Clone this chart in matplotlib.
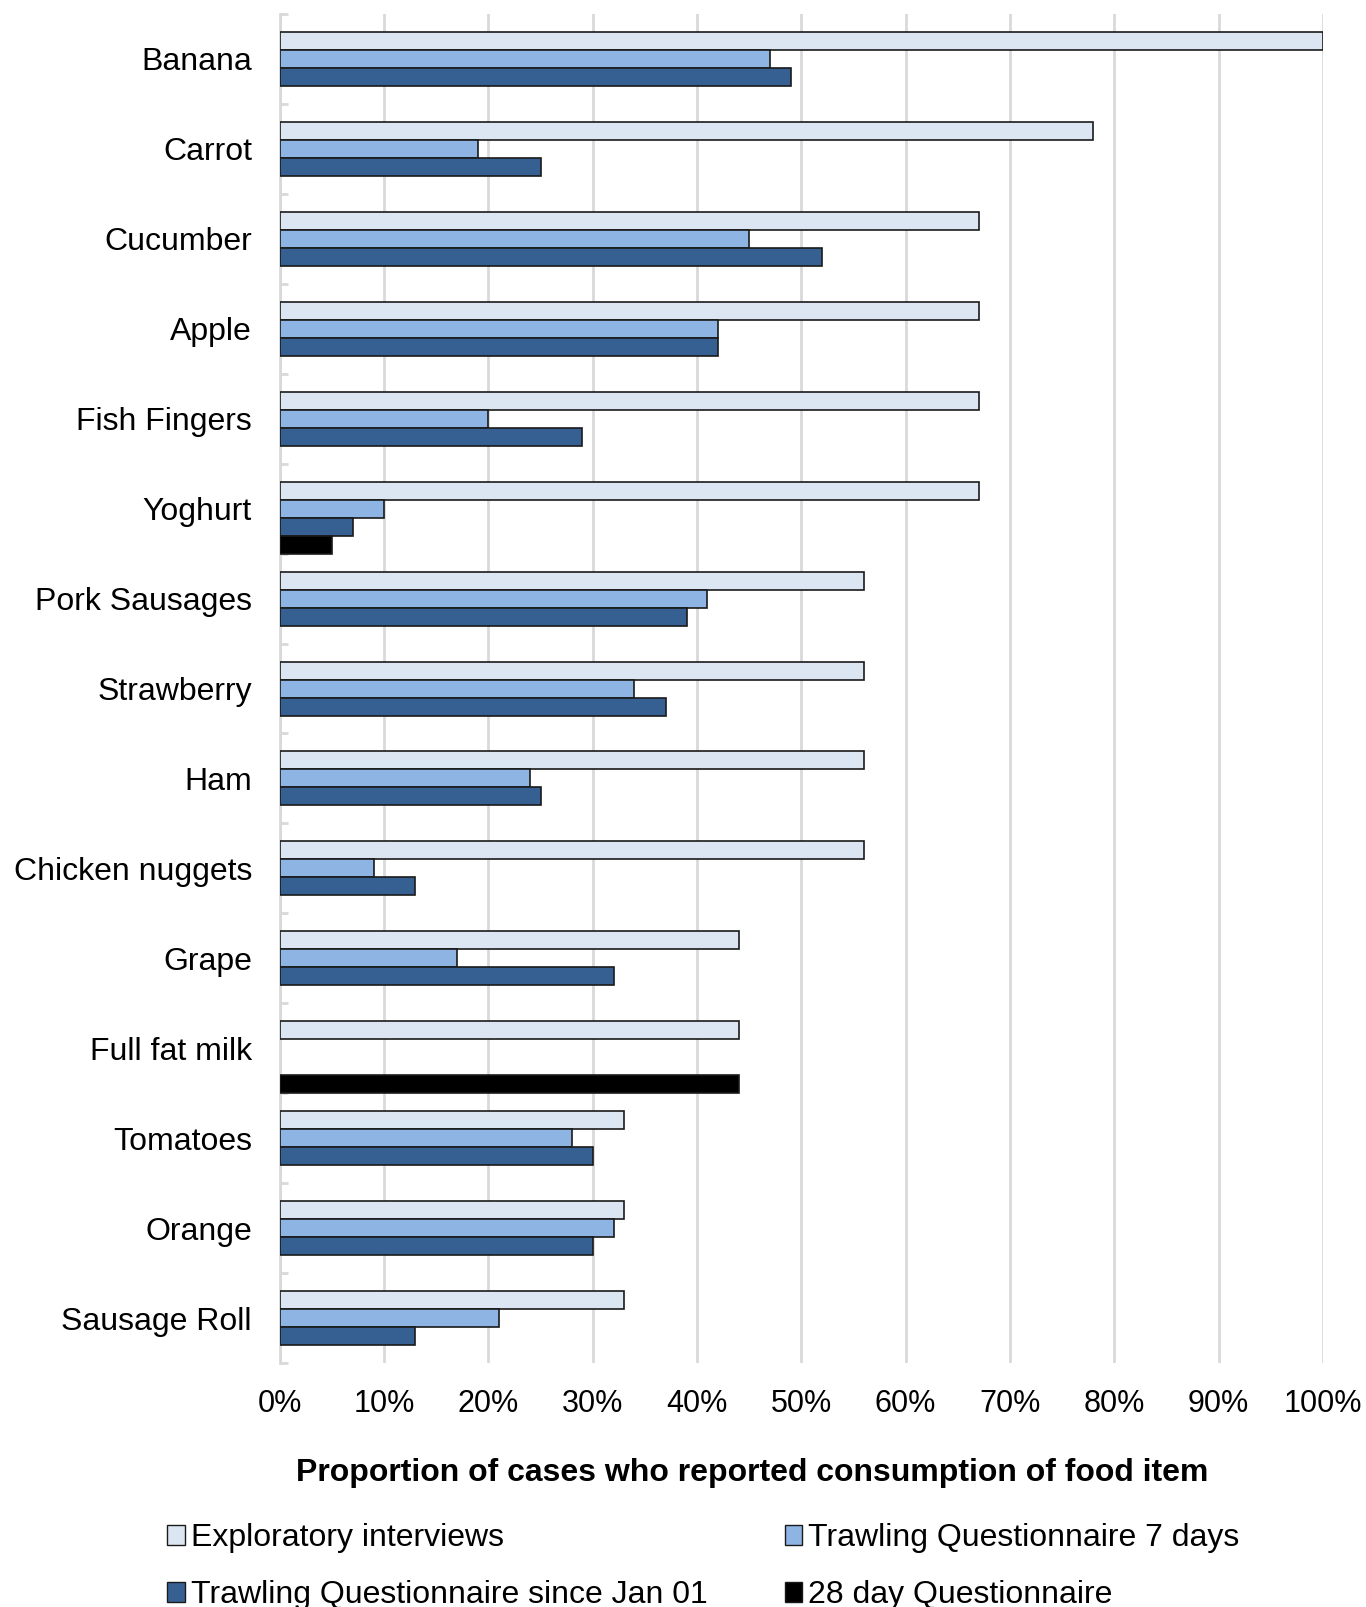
import numpy as np
import matplotlib.pyplot as plt
from matplotlib.ticker import FixedLocator, PercentFormatter

plt.rcParams['font.family'] = ['Liberation Sans', 'DejaVu Sans']

# Food items, top to bottom
foods = ['Banana', 'Carrot', 'Cucumber', 'Apple', 'Fish Fingers', 'Yoghurt',
         'Pork Sausages', 'Strawberry', 'Ham', 'Chicken nuggets', 'Grape',
         'Full fat milk', 'Tomatoes', 'Orange', 'Sausage Roll']

# Percent of cases reporting consumption (nan = not asked)
exploratory = [100, 78, 67, 67, 67, 67, 56, 56, 56, 56, 44, 44, 33, 33, 33]
trawl_7days = [47, 19, 45, 42, 20, 10, 41, 34, 24, 9, 17, np.nan, 28, 32, 21]
trawl_jan01 = [49, 25, 52, 42, 29, 7, 39, 37, 25, 13, 32, np.nan, 30, 30, 13]
day28 = [np.nan, np.nan, np.nan, np.nan, np.nan, 5, np.nan, np.nan, np.nan,
         np.nan, np.nan, 44, np.nan, np.nan, np.nan]

series = [
    ('Exploratory interviews', exploratory, '#DCE6F2'),
    ('Trawling Questionnaire 7 days', trawl_7days, '#8EB4E3'),
    ('Trawling Questionnaire since Jan 01', trawl_jan01, '#376092'),
    ('28 day Questionnaire', day28, '#000000'),
]

fig = plt.figure(figsize=(13.66, 16.07), dpi=100)
ax = fig.add_axes([0.2048, 0.1518, 0.7637, 0.8395])

n = len(foods)
slot = np.arange(n)
bar_h = 0.2
bars = []
for j, (name, vals, col) in enumerate(series):
    y = slot + 0.2 + bar_h * j
    b = ax.barh(y, vals, height=bar_h, align='edge', color=col,
                edgecolor='#1a1a1a', linewidth=1.2, label=name, zorder=3)
    bars.append(b)

ax.set_xlim(0, 100)
ax.set_ylim(n, 0)
ax.set_xticks(np.arange(0, 101, 10))
ax.xaxis.set_major_formatter(PercentFormatter(decimals=0))
ax.grid(axis='x', color='#D9D9D9', linewidth=2, zorder=0)

ax.set_yticks(slot + 0.5)
ax.set_yticklabels(foods)
ax.yaxis.set_minor_locator(FixedLocator(np.arange(n + 1)))
ax.tick_params(axis='y', which='major', length=0, pad=20, labelsize=23)
ax.tick_params(axis='y', which='minor', direction='in', length=6,
               color='#D9D9D9', width=2)
ax.tick_params(axis='x', length=0, pad=19, labelsize=22)

for s in ['top', 'right', 'bottom']:
    ax.spines[s].set_visible(False)
ax.spines['left'].set_color('#D9D9D9')
ax.spines['left'].set_linewidth(2)

ax.set_xlabel('Proportion of cases who reported consumption of food item',
              fontsize=23, fontweight='bold', labelpad=28)
ax.xaxis.label.set_x(0.453)

# legend laid out row by row: two entries per row
order = [0, 2, 1, 3]
leg = fig.legend([bars[i] for i in order], [series[i][0] for i in order],
                 loc='upper left', bbox_to_anchor=(0.113, 0.060), ncol=2,
                 frameon=False, fontsize=23, handlelength=0.55,
                 handleheight=0.55, handletextpad=0.2, columnspacing=2.4,
                 labelspacing=0.84, borderaxespad=0)
for h in leg.legend_handles:
    h.set_linewidth(1)

fig.savefig('out.png', dpi=100)
